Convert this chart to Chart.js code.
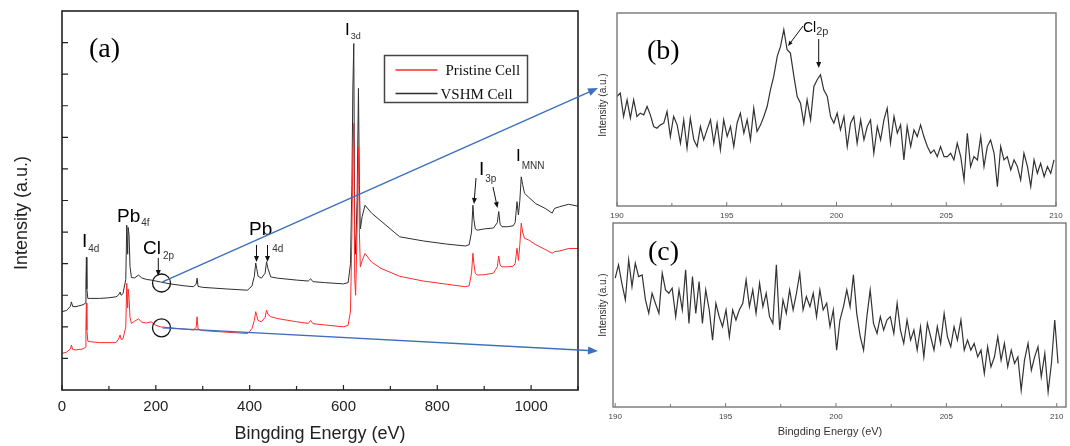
<!DOCTYPE html>
<html><head><meta charset="utf-8">
<script src="https://cdn.jsdelivr.net/npm/chart.js@4.4.1/dist/chart.umd.min.js"></script>
<style>
html,body{margin:0;padding:0;background:#fff;}
#wrap{position:relative;width:1070px;height:446px;overflow:hidden;background:#fff;}
canvas{position:absolute;left:0;top:0;}
</style></head><body>
<div id="wrap">
<canvas id="ca" width="1070" height="446"></canvas>
<canvas id="cb" width="1070" height="446"></canvas>
<canvas id="cc" width="1070" height="446"></canvas>
</div>
<script>
// ---------- DATA ----------
// Survey spectrum (panel a): binding energy (eV) and intensities (a.u., offset)
const surveyEnergy = [
  0,10,18,20,23,30,45,50,51,52,
  53,55,60,80,100,115,120,124,126,130,
  136,138,140,141,143,145,148,155,163,170,
  180,190,200,210,230,260,280,286,288,290,
  300,350,395,400,405,410,413,415,418,425,
  433,436,439,445,460,500,525,530,535,560,
  600,610,615,618,620,622,624,626,629,632,
  634,636,640,646,660,680,720,770,820,860,
  868,873,876,878,881,885,900,920,928,931,
  934,938,950,962,966,970,973,976,979,982,
  986,995,1010,1030,1045,1050,1060,1080,1100];
const pristineCell = [
  1.16,1.2,1.3,1.42,1.28,1.27,1.3,1.35,2.0,2.75,
  1.9,1.55,1.53,1.5,1.5,1.5,1.6,1.74,1.6,1.62,
  2.0,3.38,2.6,3.2,2.9,2.3,2.11,2.18,2.25,2.15,
  2.12,2.16,2.05,2.0,1.97,1.93,1.9,1.98,2.32,1.93,
  1.88,1.83,1.79,1.85,1.95,2.2,2.48,2.35,2.2,2.16,
  2.3,2.53,2.4,2.32,2.26,2.16,2.11,2.2,2.1,2.06,
  2.0,2.05,2.5,5.0,7.5,8.44,3.5,3.0,5.0,7.7,
  5.0,3.9,4.1,4.32,4.05,3.85,3.6,3.45,3.35,3.27,
  3.3,3.7,4.33,4.0,3.7,3.64,3.65,3.7,3.9,4.24,
  3.95,3.9,3.9,3.92,4.0,4.49,4.1,4.6,5.28,5.0,
  4.8,4.75,4.6,4.45,4.33,4.38,4.4,4.48,4.48];
const vshmCell = [
  2.48,2.52,2.65,2.79,2.64,2.64,2.7,2.75,3.4,4.2,
  3.2,2.9,2.9,2.9,2.92,2.95,3.0,3.1,3.0,3.05,
  3.5,5.22,4.3,5.15,4.9,3.9,3.56,3.55,3.64,3.55,
  3.5,3.48,3.45,3.42,3.36,3.3,3.27,3.35,3.54,3.28,
  3.25,3.2,3.16,3.22,3.3,3.6,4.02,3.85,3.6,3.54,
  3.7,4.06,3.85,3.58,3.54,3.48,3.45,3.52,3.43,3.4,
  3.36,3.4,4.0,6.5,9.5,10.97,5.0,4.3,6.0,9.55,
  6.5,5.1,5.5,5.85,5.6,5.35,4.85,4.72,4.62,4.56,
  4.6,5.0,5.85,5.4,5.1,5.06,5.1,5.13,5.3,5.65,
  5.25,5.17,5.17,5.2,5.3,5.96,5.54,6.0,6.75,6.5,
  6.23,6.1,5.9,5.75,5.6,5.75,5.8,5.88,5.82];
const surveyTickLabels = [0,200,400,600,800,1000];
const surveyMinorTicks = [100,300,500,700,900,1100];
const surveyYTicks = [1,2,3,4,5,6,7,8,9,10,11];
const zoomEnergy = 210;

// High-resolution Cl 2p region (panels b, c)
const hrEnergy = [
  190.00,190.15,190.30,190.46,190.61,190.76,190.91,191.06,191.22,191.37,
  191.52,191.67,191.82,191.98,192.13,192.28,192.43,192.58,192.74,192.89,
  193.04,193.19,193.34,193.50,193.65,193.80,193.95,194.10,194.26,194.41,
  194.56,194.71,194.86,195.02,195.17,195.32,195.47,195.62,195.78,195.93,
  196.08,196.23,196.38,196.54,196.69,196.84,196.99,197.14,197.30,197.45,
  197.60,197.75,197.90,198.06,198.21,198.36,198.51,198.66,198.82,198.97,
  199.12,199.27,199.42,199.58,199.73,199.88,200.03,200.18,200.34,200.49,
  200.64,200.79,200.94,201.10,201.25,201.40,201.55,201.70,201.86,202.01,
  202.16,202.31,202.46,202.62,202.77,202.92,203.07,203.22,203.38,203.53,
  203.68,203.83,203.98,204.14,204.29,204.44,204.59,204.74,204.90,205.05,
  205.20,205.35,205.50,205.66,205.81,205.96,206.11,206.26,206.42,206.57,
  206.72,206.87,207.02,207.18,207.33,207.48,207.63,207.78,207.94,208.09,
  208.24,208.39,208.54,208.70,208.85,209.00,209.15,209.30,209.46,209.61,
  209.76,209.91,210.06];
const cl2pVSHM = [
  328,338,268,318,263,318,268,278,273,298,
  273,238,233,243,248,283,208,268,243,188,
  258,173,263,198,178,238,198,228,258,188,
  248,168,258,208,238,178,248,278,218,258,
  198,293,223,243,268,298,348,388,448,478,
  528,468,458,388,328,308,248,318,258,358,
  378,393,348,328,268,248,278,228,268,178,
  248,268,188,258,198,238,258,158,238,198,
  258,293,188,268,218,243,138,238,178,228,
  208,243,208,178,158,168,148,178,148,148,
  158,138,188,148,78,218,118,148,138,208,
  118,178,198,158,58,178,138,148,108,138,
  118,78,158,118,58,138,98,128,88,118,
  98,138];
const cl2pPristine = [
  385,425,370,320,440,360,430,390,395,320,
  280,340,310,280,400,350,340,355,270,350,
  290,410,250,390,280,375,250,350,290,200,
  310,270,240,290,210,290,260,290,310,380,
  300,350,280,370,300,340,270,250,425,230,
  320,280,350,290,340,400,290,330,300,340,
  270,350,290,310,240,290,170,260,300,350,
  300,395,280,210,170,270,350,250,220,270,
  230,260,270,220,310,230,190,260,200,230,
  170,240,150,250,210,170,240,190,280,210,
  180,240,200,260,170,200,170,190,150,170,
  100,180,120,150,210,140,190,120,170,130,
  150,50,140,190,110,150,180,90,160,45,
  130,260,130];
const hrTickLabels = [190,195,200,205,210];
const hrMinorTicks = [192.5,197.5,202.5,207.5];

// ---------- HELPERS ----------
const SANS = "'Liberation Sans', Arial, sans-serif";
const SERIF = "'Liberation Serif', 'Times New Roman', serif";
const BLUE = '#3c6fbe';

function drawArrow(ctx, x1, y1, x2, y2, color, lw, hl, hw) {
  const ang = Math.atan2(y2 - y1, x2 - x1);
  const bx = x2 - hl * Math.cos(ang), by = y2 - hl * Math.sin(ang);
  ctx.save();
  ctx.strokeStyle = color; ctx.fillStyle = color; ctx.lineWidth = lw;
  ctx.beginPath(); ctx.moveTo(x1, y1); ctx.lineTo(bx, by); ctx.stroke();
  ctx.beginPath();
  ctx.moveTo(x2, y2);
  ctx.lineTo(bx + hw * Math.sin(ang), by - hw * Math.cos(ang));
  ctx.lineTo(bx - hw * Math.sin(ang), by + hw * Math.cos(ang));
  ctx.closePath(); ctx.fill();
  ctx.restore();
}

const framePlugin = {
  id: 'frame',
  afterDatasetsDraw(chart, args, o) {
    const { ctx, chartArea: a, scales: { x, y } } = chart;
    ctx.save();
    ctx.strokeStyle = o.color; ctx.lineWidth = o.width;
    ctx.strokeRect(a.left, a.top, a.right - a.left, a.bottom - a.top);
    ctx.lineWidth = o.tickWidth || 1;
    ctx.beginPath();
    (o.xMajor || []).forEach(v => { const p = x.getPixelForValue(v); ctx.moveTo(p, a.bottom); ctx.lineTo(p, a.bottom - o.majorLen); });
    (o.xMinor || []).forEach(v => { const p = x.getPixelForValue(v); ctx.moveTo(p, a.bottom); ctx.lineTo(p, a.bottom - o.minorLen); });
    (o.yMajor || []).forEach(v => { const p = y.getPixelForValue(v); ctx.moveTo(a.left, p); ctx.lineTo(a.left + o.yLen, p); });
    ctx.stroke();
    ctx.restore();
  }
};

const textPlugin = {
  id: 'texts',
  afterDraw(chart, args, o) {
    const ctx = chart.ctx;
    (o.items || []).forEach(it => {
      ctx.save();
      ctx.fillStyle = it.color || '#000';
      ctx.font = (it.style ? it.style + ' ' : '') + it.size + 'px ' + (it.family || SANS);
      ctx.textAlign = it.align || 'left';
      ctx.textBaseline = 'alphabetic';
      ctx.translate(it.x, it.y);
      if (it.rot) ctx.rotate(it.rot);
      ctx.fillText(it.t, 0, 0);
      if (it.sub) {
        const w = ctx.measureText(it.t).width;
        ctx.font = it.subSize + 'px ' + (it.family || SANS);
        ctx.fillStyle = it.subColor || '#333';
        ctx.textAlign = 'left';
        ctx.fillText(it.sub, w + (it.subDx || 0), it.subDy || 0);
      }
      ctx.restore();
    });
    (o.arrows || []).forEach(a => drawArrow(ctx, a[0], a[1], a[2], a[3], '#111', 1, a[4] || 6, a[5] || 2.5));
  }
};

const legendPlugin = {
  id: 'boxlegend',
  afterDraw(chart, args, o) {
    if (!o.show) return;
    const ctx = chart.ctx;
    ctx.save();
    ctx.strokeStyle = '#444'; ctx.lineWidth = 1.5;
    ctx.strokeRect(o.x, o.y, o.w, o.h);
    ctx.font = '15px ' + SERIF;
    ctx.textBaseline = 'alphabetic';
    chart.data.datasets.forEach((ds, i) => {
      const ly = o.y + o.first + i * o.gap;
      ctx.strokeStyle = ds.borderColor; ctx.lineWidth = 1.3;
      ctx.beginPath(); ctx.moveTo(o.x + 11, ly); ctx.lineTo(o.x + 53, ly); ctx.stroke();
      ctx.fillStyle = '#111';
      ctx.fillText(ds.label, o.x + o.textX[i], ly + 5);
    });
    ctx.restore();
  }
};

function pts(xs, ys) { return ys.map((v, i) => ({ x: xs[i], y: v })); }

function xAxis(min, max, tickVals, height, size, color, pad) {
  return {
    type: 'linear', min, max,
    afterBuildTicks: s => { s.ticks = tickVals.map(v => ({ value: v })); },
    afterFit: s => { s.height = height; },
    grid: { display: false, drawTicks: false },
    border: { display: false },
    ticks: { autoSkip: false, maxRotation: 0, padding: pad, color, font: { family: SANS, size }, callback: v => String(v) }
  };
}

// ---------- PANEL (a) ----------
const chartA = new Chart(document.getElementById('ca'), {
  type: 'line',
  data: {
    datasets: [
      { label: 'Pristine Cell', data: pts(surveyEnergy, pristineCell), borderColor: '#ff2a2a', borderWidth: 1, pointRadius: 0, tension: 0 },
      { label: 'VSHM Cell', data: pts(surveyEnergy, vshmCell), borderColor: '#2e2e2e', borderWidth: 1, pointRadius: 0, tension: 0 }
    ]
  },
  options: {
    responsive: false, animation: false, devicePixelRatio: 1,
    layout: { padding: { left: 62, right: 492, top: 11, bottom: 0 } },
    plugins: {
      legend: { display: false }, tooltip: { enabled: false },
      frame: { color: '#222', width: 1.6, tickWidth: 1.2, xMajor: surveyTickLabels, xMinor: surveyMinorTicks, majorLen: 5, minorLen: 4, yMajor: surveyYTicks, yLen: 6 },
      boxlegend: { show: true, x: 384.5, y: 55.5, w: 143, h: 47, first: 14.5, gap: 23.5, textX: [61, 56] },
      texts: {
        items: [
          { t: '(a)', x: 89, y: 57, size: 28, family: SERIF },
          { t: 'I', x: 82, y: 247, size: 19, sub: '4d', subSize: 10, subDx: 1, subDy: 5 },
          { t: 'Pb', x: 117, y: 222, size: 19, sub: '4f', subSize: 10, subDx: 1, subDy: 4 },
          { t: 'Cl', x: 143, y: 254, size: 19, sub: '2p', subSize: 10, subDx: 2, subDy: 5 },
          { t: 'Pb', x: 249, y: 235, size: 19, sub: '4d', subSize: 10, subDx: 0, subDy: 17 },
          { t: 'I', x: 345, y: 35, size: 17, sub: '3d', subSize: 9, subDx: 1, subDy: 4 },
          { t: 'I', x: 479, y: 175, size: 19, sub: '3p', subSize: 10, subDx: 1, subDy: 7 },
          { t: 'I', x: 516, y: 161, size: 17, sub: 'MNN', subSize: 10, subDx: 1, subDy: 8 },
          { t: 'Bingding Energy (eV)', x: 320, y: 439, size: 18, align: 'center', color: '#222' },
          { t: 'Intensity (a.u.)', x: 27, y: 213, size: 18, align: 'center', rot: -Math.PI / 2, color: '#222' }
        ],
        arrows: [
          [158.3, 258, 158.3, 276, 6, 2.5],
          [256.5, 245, 256.5, 262, 6, 2.5],
          [267.5, 245, 267.5, 262, 6, 2.5],
          [476, 178, 474, 204, 6, 2.5],
          [493, 187, 497.5, 208, 6, 2.5]
        ]
      }
    },
    scales: {
      x: xAxis(0, 1100, surveyTickLabels, 56, 15, '#222', 8),
      y: { display: false, min: 0, max: 12 }
    }
  },
  plugins: [framePlugin, legendPlugin, textPlugin]
});

// ---------- PANEL (b) ----------
const chartB = new Chart(document.getElementById('cb'), {
  type: 'line',
  data: { datasets: [{ label: 'VSHM Cell', data: pts(hrEnergy, cl2pVSHM), borderColor: '#333', borderWidth: 1.2, pointRadius: 0, tension: 0 }] },
  options: {
    responsive: false, animation: false, devicePixelRatio: 1,
    layout: { padding: { left: 617, right: 14, top: 13, bottom: 220 } },
    plugins: {
      legend: { display: false }, tooltip: { enabled: false },
      frame: { color: '#777', width: 1.4, tickWidth: 1, xMajor: hrTickLabels, xMinor: hrMinorTicks, majorLen: 4, minorLen: 3 },
      texts: {
        items: [
          { t: '(b)', x: 647, y: 59, size: 28, family: SERIF },
          { t: 'Cl', x: 803, y: 32, size: 14, sub: '2p', subSize: 11, subDx: 0, subDy: 3 },
          { t: 'Intensity (a.u.)', x: 606, y: 105, size: 10, align: 'center', rot: -Math.PI / 2, color: '#333' }
        ],
        arrows: [
          [803, 26, 788, 46, 5, 2],
          [818.7, 39, 818.7, 68, 6, 2.5]
        ]
      }
    },
    scales: {
      x: xAxis(190, 210, hrTickLabels, 20, 8, '#444', 5),
      y: { display: false, min: 0, max: 578 }
    }
  },
  plugins: [framePlugin, textPlugin]
});

// ---------- PANEL (c) + links ----------
const linkPlugin = {
  id: 'links',
  afterDraw(chart) {
    const ctx = chart.ctx;
    const xs = chartA.scales.x, ys = chartA.scales.y;
    const i = surveyEnergy.indexOf(zoomEnergy);
    const px = xs.getPixelForValue(zoomEnergy);
    const pyB = ys.getPixelForValue(vshmCell[i]);
    const pyR = ys.getPixelForValue(pristineCell[i]);
    ctx.save();
    ctx.strokeStyle = '#111'; ctx.lineWidth = 1.3;
    [pyB, pyR].forEach(py => { ctx.beginPath(); ctx.arc(px + 1, py + 1, 9, 0, Math.PI * 2); ctx.stroke(); });
    ctx.restore();
    const ab = chartB.chartArea, ac = chart.chartArea;
    drawArrow(ctx, px + 2, pyB, ab.left - 19, ab.top + 75, BLUE, 1.4, 10, 4);
    drawArrow(ctx, px + 2, pyR + 1, ac.left - 15, ac.top + 128, BLUE, 1.4, 10, 4);
  }
};

const chartC = new Chart(document.getElementById('cc'), {
  type: 'line',
  data: { datasets: [{ label: 'Pristine Cell', data: pts(hrEnergy, cl2pPristine), borderColor: '#333', borderWidth: 1.2, pointRadius: 0, tension: 0 }] },
  options: {
    responsive: false, animation: false, devicePixelRatio: 1,
    layout: { padding: { left: 613, right: 4, top: 223, bottom: 19 } },
    plugins: {
      legend: { display: false }, tooltip: { enabled: false },
      frame: { color: '#777', width: 1.4, tickWidth: 1, xMajor: hrTickLabels, xMinor: hrMinorTicks, majorLen: 4, minorLen: 3 },
      texts: {
        items: [
          { t: '(c)', x: 648, y: 260, size: 28, family: SERIF },
          { t: 'Intensity (a.u.)', x: 606, y: 305, size: 10, align: 'center', rot: -Math.PI / 2, color: '#333' },
          { t: 'Bingding Energy (eV)', x: 830, y: 435, size: 11, align: 'center', color: '#333' }
        ]
      }
    },
    scales: {
      x: xAxis(189.9, 210.42, hrTickLabels, 20, 8, '#444', 5),
      y: { display: false, min: 0, max: 550 }
    }
  },
  plugins: [framePlugin, textPlugin, linkPlugin]
});
</script>
</body></html>
